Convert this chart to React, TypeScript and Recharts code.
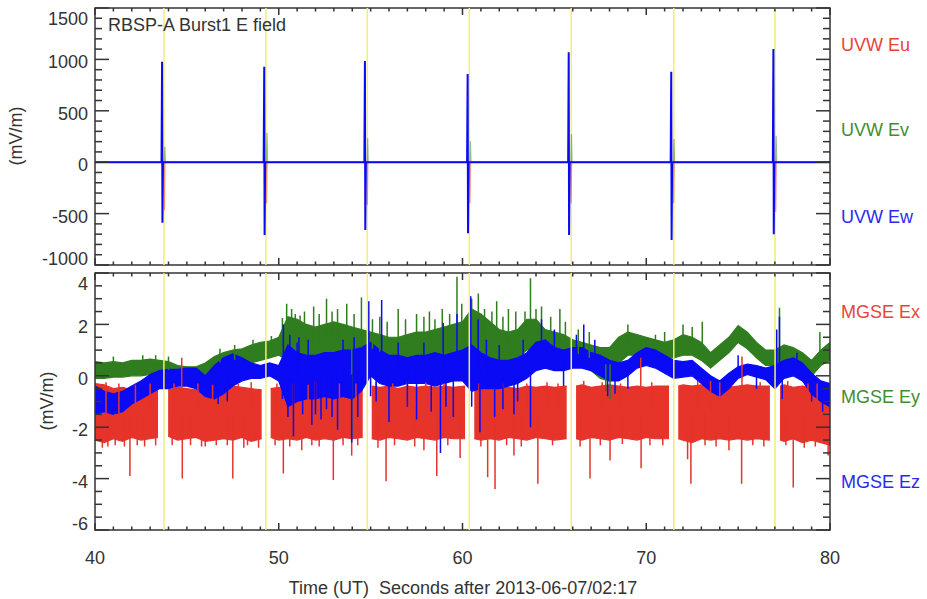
import { ComposedChart, Line, Area, XAxis, YAxis, ReferenceLine, ReferenceArea } from 'recharts'

const FONT = '"Liberation Sans", Arial, sans-serif'
const INK = '#333333'
const RED = '#e6342a'
const GREEN = '#2f7d1f'
const BLUE = '#0a0af5'
const YELLOW = '#f3ef6b'

// plot frame (px)
const W = 927
const H = 599
const L = 95
const R = 830
const TOP1 = 8
const BOT1 = 265
const TOP2 = 273
const BOT2 = 530
const XH = 30

// yellow burst markers, seconds
const markers = [43.75, 49.3, 54.82, 60.37, 65.92, 71.5, 77.01]

// ---- top panel: UVW, spikes at each burst
const burstT = [43.65, 49.21, 54.69, 60.28, 65.78, 71.36, 76.92]
const ewUp = [978, 929, 984, 858, 1069, 880, 1101]
const ewDown = [-589, -708, -660, -692, -708, -757, -702]
const evUp = [150, 284, 232, 206, 274, 225, 258]
const euDown = [-465, -400, -416, -400, -400, -400, -481]

// ---- bottom panel: MGSE, band envelopes every 0.5 s
const bandT = [
  40, 40.5, 41, 41.5, 42, 42.5, 43, 43.5, 44, 44.5,
  45, 45.5, 46, 46.5, 47, 47.5, 48, 48.5, 49, 49.5,
  50, 50.5, 51, 51.5, 52, 52.5, 53, 53.5, 54, 54.5,
  55, 55.5, 56, 56.5, 57, 57.5, 58, 58.5, 59, 59.5,
  60, 60.5, 61, 61.5, 62, 62.5, 63, 63.5, 64, 64.5,
  65, 65.5, 66, 66.5, 67, 67.5, 68, 68.5, 69, 69.5,
  70, 70.5, 71, 71.5, 72, 72.5, 73, 73.5, 74, 74.5,
  75, 75.5, 76, 76.5, 77, 77.5, 78, 78.5, 79, 79.5,
  80,
]
const eyHi = [
  0.55, 0.5, 0.55, 0.5, 0.6, 0.6, 0.65, 0.6, 0.55, 0.4,
  0.35, 0.35, 0.5, 0.75, 0.9, 1.0, 1.05, 1.2, 1.3, 1.35,
  1.5, 2.3, 2.2, 2.0, 1.9, 2.0, 2.1, 2.0, 1.9, 1.8,
  1.7, 1.6, 1.5, 1.5, 1.6, 1.7, 1.7, 1.8, 1.9, 2.0,
  2.1, 2.6, 2.4, 2.1, 1.8, 1.7, 1.8, 2.2, 2.2, 1.8,
  1.7, 1.6, 1.4, 1.3, 1.2, 1.1, 1.1, 1.5, 1.7, 1.6,
  1.5, 1.4, 1.3, 1.4, 1.6, 1.5, 1.3, 0.9, 1.2, 1.5,
  1.95, 1.7, 1.3, 1.0, 1.0, 1.2, 1.1, 0.9, 0.6, 1.0,
  1.3,
]
const eyLo = [
  -0.1, -0.1, -0.05, -0.05, 0.0, 0.0, 0.05, 0.0, -0.1, -0.3,
  -0.35, -0.4, -0.2, 0.0, 0.15, 0.25, 0.3, 0.5, 0.6, 0.7,
  0.8, 0.6, 0.6, 0.6, 0.5, 0.5, 0.6, 0.5, 0.5, 0.4,
  0.4, 0.3, 0.3, 0.2, 0.3, 0.4, 0.4, 0.4, 0.5, 0.5,
  0.5, 0.7, 0.8, 0.7, 0.6, 0.6, 0.7, 1.0, 1.1, 0.9,
  0.8, 0.7, 0.5, 0.4, 0.2, -0.1, -0.2, 0.5, 0.8, 0.8,
  0.8, 0.8, 0.7, 0.7, 0.8, 0.8, 0.6, 0.3, 0.6, 0.9,
  1.3, 1.05, 0.7, 0.4, 0.4, 0.6, 0.5, 0.3, 0.0, 0.4,
  0.6,
]
const ezHi = [
  -0.4, -0.6, -0.7, -0.6, -0.4, -0.2, 0.05, 0.2, 0.25, 0.25,
  0.3, 0.3, 0.0, 0.4, 0.7, 0.85, 0.7, 0.5, 0.4, 0.5,
  0.4, 1.2, 0.9, 0.8, 0.8, 0.9, 0.9, 1.0, 1.0, 1.1,
  1.3, 1.0, 0.8, 0.8, 0.7, 0.8, 0.8, 0.9, 0.8, 0.9,
  1.0, 1.2, 0.9, 0.7, 0.6, 0.6, 0.7, 0.9, 1.3, 1.4,
  1.1, 1.0, 1.1, 1.1, 0.9, 0.8, 0.6, 0.5, 0.6, 0.9,
  1.1, 1.0, 0.8, 0.6, 0.55, 0.6, 0.3, 0.0, -0.2, 0.1,
  0.35, 0.45, 0.4, 0.3, 0.4, 0.6, 0.7, 0.5, 0.1, -0.2,
  -0.3,
]
const ezLo = [
  -1.5, -1.4, -1.5, -1.4, -1.1, -0.9, -0.7, -0.5, -0.5, -0.4,
  -0.4, -0.5, -0.8, -0.9, -0.7, -0.4, -0.2, -0.1, -0.1, 0.0,
  -0.2, -1.2, -1.0, -0.9, -0.9, -0.8, -0.9, -0.8, -0.9, -0.6,
  0.0, -0.3, -0.4, -0.4, -0.3, -0.3, -0.3, -0.4, -0.3, -0.2,
  -0.2, -0.6, -0.5, -0.5, -0.5, -0.4, -0.3, -0.1, 0.2, 0.3,
  0.2, 0.2, 0.3, 0.3, 0.2, 0.0, -0.2, -0.2, 0.0, 0.3,
  0.4, 0.3, 0.1, -0.1, -0.05, 0.0, -0.3, -0.6, -0.8, -0.5,
  -0.1, 0.05, -0.05, -0.15, -0.5, -0.1, 0.0, -0.2, -0.7, -1.0,
  -1.2,
]

// Ex has gaps around each burst (null rows)
const exT = [
  40, 40.5, 41, 41.5, 42, 42.5, 43, 43.43, 43.7,
  43.98, 44.5, 45, 45.5, 46, 46.5, 47, 47.5, 48, 48.5, 49.07, 49.3,
  49.56, 50, 50.5, 51, 51.5, 52, 52.5, 53, 53.5, 54, 54.57, 54.8,
  55.06, 55.5, 56, 56.5, 57, 57.5, 58, 58.5, 59, 59.5, 60.14, 60.4,
  60.64, 61, 61.5, 62, 62.5, 63, 63.5, 64, 64.5, 65, 65.67, 65.9,
  66.18, 66.5, 67, 67.5, 68, 68.5, 69, 69.5, 70, 70.5, 71.24, 71.5,
  71.74, 72, 72.5, 73, 73.5, 74, 74.5, 75, 75.5, 76, 76.73, 77,
  77.28, 77.5, 78, 78.5, 79, 79.5, 80,
]
const exHi = [
  -0.3, -0.35, -0.5, -0.45, -0.55, -0.45, -0.5, -0.5, null,
  -0.55, -0.45, -0.5, -0.55, -0.45, -0.5, -0.5, -0.4, -0.45, -0.5, -0.55, null,
  -0.5, -0.45, -0.5, -0.4, -0.5, -0.45, -0.5, -0.45, -0.5, -0.45, -0.5, null,
  -0.4, -0.45, -0.4, -0.5, -0.4, -0.45, -0.4, -0.45, -0.4, -0.45, -0.4, null,
  -0.45, -0.5, -0.45, -0.4, -0.45, -0.5, -0.4, -0.45, -0.4, -0.45, -0.4, null,
  -0.4, -0.35, -0.45, -0.4, -0.35, -0.4, -0.45, -0.4, -0.45, -0.4, -0.4, null,
  -0.4, -0.35, -0.4, -0.35, -0.4, -0.35, -0.45, -0.4, -0.35, -0.4, -0.4, null,
  -0.4, -0.35, -0.45, -0.4, -0.45, -0.5, -0.45,
]
const exLo = [
  -2.5, -2.6, -2.45, -2.55, -2.4, -2.5, -2.45, -2.4, null,
  -2.35, -2.5, -2.45, -2.4, -2.55, -2.5, -2.45, -2.5, -2.4, -2.55, -2.45, null,
  -2.4, -2.5, -2.45, -2.5, -2.4, -2.5, -2.45, -2.5, -2.4, -2.45, -2.4, null,
  -2.45, -2.5, -2.4, -2.45, -2.5, -2.4, -2.45, -2.5, -2.4, -2.45, -2.45, null,
  -2.45, -2.5, -2.45, -2.5, -2.4, -2.45, -2.5, -2.4, -2.45, -2.5, -2.45, null,
  -2.45, -2.5, -2.4, -2.45, -2.5, -2.4, -2.45, -2.5, -2.4, -2.45, -2.45, null,
  -2.45, -2.5, -2.6, -2.45, -2.5, -2.45, -2.5, -2.45, -2.5, -2.45, -2.5, null,
  -2.5, -2.55, -2.45, -2.6, -2.5, -2.6, -2.7,
]

// single-sample excursions [time, tip]
const exSpikes = [
  [40.4, -2.8], [40.6, -0.25], [40.7, -2.75], [41.9, -3.9], [42.7, -2.75], [43.3, -2.7],
  [44.72, 0.7], [44.75, -4.0], [45.2, -2.7], [46.0, -2.75], [47.5, -4.0], [48.1, -2.8],
  [48.9, -2.8], [50.25, -3.8], [51.25, -2.9], [52.0, -0.2], [52.2, -2.75], [52.97, -4.05],
  [53.97, -3.1], [55.84, -4.1], [57.0, -0.2], [57.9, -2.9], [58.6, -3.9], [59.87, -3.2],
  [61.37, -3.95], [61.77, -4.4], [62.8, -3.1], [63.5, -0.3], [64.1, -4.2], [66.94, -4.0],
  [68.03, -3.3], [69.7, 0.7], [69.72, -3.6], [72.25, -3.25], [72.43, -4.2], [73.5, -0.2],
  [74.5, -2.9], [75.19, -4.2], [75.21, 0.75], [78.0, -4.35], [79.9, -3.1],
  // smaller edge ripples
  [41.3, -0.3], [42.2, -0.35], [43.0, -0.3], [44.3, -0.3], [45.6, -0.3], [46.4, -0.35],
  [47.8, -0.3], [48.5, -0.25], [49.9, -0.3], [50.8, -0.3], [51.6, -0.35], [53.3, -0.3],
  [54.2, -0.3], [55.3, -0.25], [56.2, -0.3], [58.0, -0.25], [59.0, -0.3], [60.9, -0.3],
  [62.2, -0.3], [64.6, -0.25], [65.2, -0.3], [66.6, -0.2], [67.6, -0.25], [68.6, -0.3],
  [70.3, -0.25], [72.8, -0.2], [74.0, -0.25], [76.2, -0.25], [77.7, -0.2], [78.8, -0.3],
  [79.3, -0.3], [41.1, -2.7], [41.6, -2.75], [42.3, -2.7], [44.2, -2.7], [45.8, -2.75],
  [46.6, -2.7], [47.2, -2.7], [48.3, -2.7], [49.8, -2.7], [50.6, -2.75], [51.8, -2.7],
  [53.5, -2.7], [54.3, -2.7], [55.4, -2.8], [56.3, -2.7], [57.4, -2.75], [59.2, -2.7],
  [61.0, -2.75], [62.4, -2.7], [63.2, -2.75], [64.9, -2.7], [66.4, -2.75], [67.5, -2.7],
  [68.7, -2.65], [70.2, -2.7], [70.9, -2.7], [73.2, -2.7], [73.8, -2.75], [75.8, -2.7],
  [76.4, -2.75], [77.6, -2.7], [78.6, -2.8], [79.2, -2.75],
]
const eySpikes = [
  [41.0, 0.75], [42.6, 0.8], [43.3, 0.8], [44.0, 0.75], [46.8, 1.05], [47.6, 1.2],
  [48.6, 1.4], [49.6, 1.55], [50.2, 2.25], [50.43, 2.8], [50.7, 2.6], [51.16, 2.35],
  [51.9, 2.7], [52.6, 3.0], [52.9, 2.5], [53.7, 2.8], [54.5, 3.05], [55.5, 2.3],
  [56.5, 2.6], [57.5, 2.4], [58.2, 2.5], [58.9, 2.6], [59.7, 3.85], [59.96, 2.8],
  [60.5, 3.0], [60.86, 3.2], [61.86, 2.9], [62.5, 2.6], [62.9, 2.5], [63.7, 3.8],
  [64.3, 2.7], [65.3, 2.6], [70.5, 1.6], [72.0, 2.0], [73.05, 2.1], [77.25, 2.65],
  [79.45, 1.7], [67.8, -0.6], [68.03, -0.9], [53.97, -2.5],
  [50.9, 2.4], [51.4, 2.5], [52.2, 2.4], [53.2, 2.6], [54.1, 2.4], [55.1, 2.2],
  [55.9, 2.1], [56.9, 2.2], [57.9, 2.3], [58.5, 2.2], [59.3, 2.4], [61.2, 2.6],
  [61.6, 2.5], [62.2, 2.3], [63.4, 2.5], [64.0, 2.6], [64.8, 2.3], [65.6, 2.1],
  [66.3, 1.8], [66.9, 1.7], [69.0, 2.0], [71.0, 1.7], [72.5, 1.9],
]
const ezSpikes = [
  [46.7, -1.1], [47.2, -1.0], [50.25, 2.0], [50.6, 1.6], [51.0, 1.3], [54.9, 2.9],
  [55.6, 2.95], [58.95, 2.05], [59.7, 2.4], [60.45, 3.1], [60.85, 2.2], [64.3, 2.2],
  [66.6, 2.0], [77.1, 1.8], [77.25, 2.3], [50.2, -0.9], [50.8, -2.35], [51.3, -1.5],
  [51.8, -1.9], [52.3, -1.7], [52.6, -1.3], [53.2, -2.1], [53.97, -2.6], [54.3, -1.6],
  [55.3, -1.0], [56.0, -1.8], [57.5, -1.7], [58.8, -3.0], [59.5, -1.6], [60.5, -1.2],
  [60.95, -2.2], [61.75, -1.6], [62.2, -1.3], [62.8, -1.5], [63.7, -2.0], [67.9, -0.8],
  [79.6, -1.4],
  [50.5, -1.6], [51.1, 1.5], [51.6, 1.4], [52.0, -1.5], [52.9, -1.6], [53.5, 1.4],
  [54.1, 1.5], [55.0, -0.8], [56.5, 1.3], [57.0, -1.2], [57.9, 1.3], [58.3, -1.4],
  [59.1, -1.2], [61.3, 1.4], [62.0, 1.2], [63.0, -1.0], [63.3, 1.4], [65.0, 1.8],
  [65.5, -0.4], [66.2, 1.6], [67.2, 1.4], [68.3, -0.7], [69.0, -0.5], [75.0, 0.8],
  [76.0, -0.5], [77.4, -0.9], [78.2, 0.9], [79.0, -1.0],
]

// ---- build rows
const ewRows = [
  { t: 40, v: 0 },
  ...burstT.flatMap((s, i) => [
    { t: s - 0.03, v: 0 },
    { t: s, v: ewUp[i] },
    { t: s + 0.02, v: ewDown[i] },
    { t: s + 0.05, v: 0 },
  ]),
  { t: 80, v: 0 },
]
const evRows = [
  { t: 40, v: 0 },
  ...burstT.flatMap((s, i) => [
    { t: s + 0.12, v: 0 },
    { t: s + 0.15, v: evUp[i] },
    { t: s + 0.18, v: 0 },
  ]),
  { t: 80, v: 0 },
]
const euRows = [
  { t: 40, v: 0 },
  ...burstT.flatMap((s, i) => [
    { t: s + 0.1, v: 0 },
    { t: s + 0.13, v: euDown[i] },
    { t: s + 0.16, v: 0 },
  ]),
  { t: 80, v: 0 },
]

const bandRows = (t: number[], lo: (number | null)[], hi: (number | null)[]) =>
  t.map((tt, i) => ({ t: tt, lo: lo[i], hi: hi[i] }))

const spikeRows = (spikes: number[][], t: number[], lo: (number | null)[], hi: (number | null)[]) =>
  spikes.flatMap(([ts, tip]) => {
    let k = -1
    t.forEach((tt, i) => {
      if (hi[i] != null && (k < 0 || Math.abs(tt - ts) < Math.abs(t[k] - ts))) k = i
    })
    const base = ((lo[k] as number) + (hi[k] as number)) / 2
    return [
      { t: ts, v: base },
      { t: ts, v: tip },
      { t: ts, v: null },
    ]
  })

const exRows = bandRows(exT, exLo, exHi)
const eyRows = bandRows(bandT, eyLo, eyHi)
const ezRows = bandRows(bandT, ezLo, ezHi)
const exSpikeRows = spikeRows(exSpikes, exT, exLo, exHi)
const eySpikeRows = spikeRows(eySpikes, bandT, eyLo, eyHi)
const ezSpikeRows = spikeRows(ezSpikes, bandT, ezLo, ezHi)

const range = (d: any) => (d.hi == null ? null : [d.lo, d.hi])

// ticks
const xTicks = Array.from({ length: 41 }, (_, i) => 40 + i)
const yTicksTop = Array.from({ length: 26 }, (_, i) => -1000 + i * 100)
const yTicksBot = Array.from({ length: 21 }, (_, i) => -6 + i * 0.5)

function XTick(props: any) {
  const { x, payload, top, bottom, labels } = props
  const v = payload.value
  const major = v % 10 === 0
  const len = major ? 7 : 3.5
  return (
    <g>
      <line x1={x} x2={x} y1={bottom} y2={bottom - len} stroke={INK} strokeWidth={1.5} />
      <line x1={x} x2={x} y1={top} y2={top + len} stroke={INK} strokeWidth={1.5} />
      {labels && major && (
        <text x={x} y={558} textAnchor="middle" dominantBaseline="central" fill={INK} fontSize={18} fontFamily={FONT}>
          {v}
        </text>
      )}
    </g>
  )
}

function YTick(props: any) {
  const { y, payload, step, lo, hi, top, bottom } = props
  const v = payload.value
  const major = Math.abs(v / step - Math.round(v / step)) < 1e-6
  const len = major ? 14 : 7
  let ly = y + 3
  if (v === hi) ly = top + 11
  if (v === lo) ly = bottom - 6
  return (
    <g>
      <line x1={L} x2={L + len} y1={y} y2={y} stroke={INK} strokeWidth={1.5} />
      <line x1={R} x2={R - len} y1={y} y2={y} stroke={INK} strokeWidth={1.5} />
      {major && (
        <text x={88} y={ly} textAnchor="end" dominantBaseline="central" fill={INK} fontSize={18} fontFamily={FONT}>
          {v}
        </text>
      )}
    </g>
  )
}

function Txt({ x, y, color = INK, children, rotate = false, center = false }: any) {
  return (
    <div
      style={{
        position: 'absolute',
        left: x,
        top: y,
        transform: rotate ? 'translate(-50%, -50%) rotate(-90deg)' : center ? 'translate(-50%, -50%)' : 'translateY(-50%)',
        color,
        fontSize: 18,
        lineHeight: '20px',
        whiteSpace: 'pre',
        fontFamily: FONT,
      }}
    >
      {children}
    </div>
  )
}

export default function App() {
  return (
    <div style={{ position: 'absolute', left: 0, top: 0, width: W, height: H, background: '#fff', fontFamily: FONT }}>
      {/* top panel */}
      <div style={{ position: 'absolute', left: 0, top: 0 }}>
        <ComposedChart width={W} height={H} margin={{ top: TOP1, right: W - R, bottom: H - BOT1 - XH, left: 0 }}>
          <XAxis
            type="number"
            dataKey="t"
            domain={[40, 80]}
            allowDataOverflow
            ticks={xTicks}
            interval={0}
            height={XH}
            axisLine={false}
            tickLine={false}
            tick={(p: any) => <XTick {...p} top={TOP1} bottom={BOT1} labels={false} />}
          />
          <YAxis
            type="number"
            domain={[-1000, 1500]}
            allowDataOverflow
            ticks={yTicksTop}
            interval={0}
            width={L}
            axisLine={false}
            tickLine={false}
            tick={(p: any) => <YTick {...p} step={500} lo={-1000} hi={1500} top={TOP1} bottom={BOT1} />}
          />
          {markers.map((m) => (
            <ReferenceLine key={m} x={m} stroke={YELLOW} strokeWidth={1.5} />
          ))}
          <Line data={euRows} dataKey="v" type="linear" stroke={RED} strokeOpacity={0.5} strokeWidth={1.2} dot={false} activeDot={false} isAnimationActive={false} />
          <Line data={evRows} dataKey="v" type="linear" stroke={GREEN} strokeOpacity={0.5} strokeWidth={1.2} dot={false} activeDot={false} isAnimationActive={false} />
          <Line data={ewRows} dataKey="v" type="linear" stroke={BLUE} strokeWidth={2} dot={false} activeDot={false} isAnimationActive={false} />
          <ReferenceArea x1={40} x2={80} y1={-1000} y2={1500} fill="none" stroke={INK} strokeWidth={1.5} />
        </ComposedChart>
      </div>

      {/* bottom panel */}
      <div style={{ position: 'absolute', left: 0, top: 0 }}>
        <ComposedChart width={W} height={H} margin={{ top: TOP2, right: W - R, bottom: H - BOT2 - XH, left: 0 }}>
          <XAxis
            type="number"
            dataKey="t"
            domain={[40, 80]}
            allowDataOverflow
            ticks={xTicks}
            interval={0}
            height={XH}
            axisLine={false}
            tickLine={false}
            tick={(p: any) => <XTick {...p} top={TOP2} bottom={BOT2} labels />}
          />
          <YAxis
            type="number"
            domain={[-6, 4]}
            allowDataOverflow
            ticks={yTicksBot}
            interval={0}
            width={L}
            axisLine={false}
            tickLine={false}
            tick={(p: any) => <YTick {...p} step={2} lo={-6} hi={4} top={TOP2} bottom={BOT2} />}
          />
          <Area data={exRows} dataKey={range} type="linear" stroke={RED} strokeWidth={1.2} fill={RED} fillOpacity={1} isAnimationActive={false} />
          <Line data={exSpikeRows} dataKey="v" type="linear" stroke={RED} strokeWidth={1.5} dot={false} activeDot={false} isAnimationActive={false} />
          <Area data={eyRows} dataKey={range} type="linear" stroke={GREEN} strokeWidth={1.2} fill={GREEN} fillOpacity={1} isAnimationActive={false} />
          <Line data={eySpikeRows} dataKey="v" type="linear" stroke={GREEN} strokeWidth={1.5} dot={false} activeDot={false} isAnimationActive={false} />
          <Area data={ezRows} dataKey={range} type="linear" stroke={BLUE} strokeWidth={1.2} fill={BLUE} fillOpacity={1} isAnimationActive={false} />
          <Line data={ezSpikeRows} dataKey="v" type="linear" stroke={BLUE} strokeWidth={1.5} dot={false} activeDot={false} isAnimationActive={false} />
          {markers.map((m) => (
            <ReferenceLine key={m} x={m} stroke={YELLOW} strokeWidth={1.5} />
          ))}
          <ReferenceArea x1={40} x2={80} y1={-6} y2={4} fill="none" stroke={INK} strokeWidth={1.5} />
        </ComposedChart>
      </div>

      <Txt x={108} y={25}>RBSP-A Burst1 E field</Txt>
      <Txt x={16} y={136} rotate>(mV/m)</Txt>
      <Txt x={47} y={401} rotate>(mV/m)</Txt>
      <Txt x={463} y={588} center>{'Time (UT)  Seconds after 2013-06-07/02:17'}</Txt>

      <Txt x={841} y={45} color="#e8443a">UVW Eu</Txt>
      <Txt x={841} y={130} color="#3f8f2f">UVW Ev</Txt>
      <Txt x={841} y={217} color="#2a2af2">UVW Ew</Txt>
      <Txt x={841} y={312} color="#e8443a">MGSE Ex</Txt>
      <Txt x={841} y={397} color="#3f8f2f">MGSE Ey</Txt>
      <Txt x={841} y={482} color="#2a2af2">MGSE Ez</Txt>
    </div>
  )
}
